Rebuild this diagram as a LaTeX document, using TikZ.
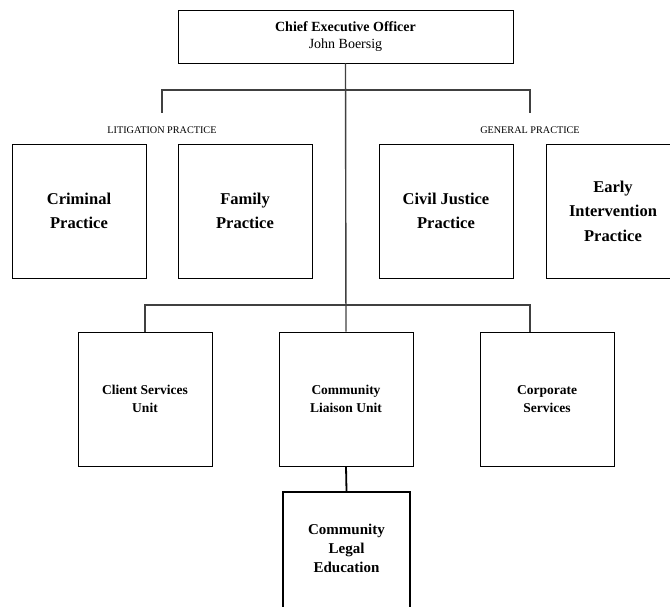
\documentclass[tikz,border=0pt]{standalone}
\usepackage{fontspec}
\setmainfont{Liberation Serif}
\tikzset{
  unitbox/.style={rectangle, draw, line width=0.9pt, minimum width=134pt, minimum height=134pt, inner sep=2pt, align=center},
  practice/.style={unitbox, font=\fontsize{16.5}{24.5}\selectfont\bfseries},
  service/.style={unitbox, font=\fontsize{13.5}{18}\selectfont\bfseries},
  grouplabel/.style={font=\fontsize{10.2}{12}\selectfont, inner sep=0pt, outer ysep=14pt},
  link/.style={draw=black!75, line width=1.4pt}
}
\begin{document}
\begin{tikzpicture}[x=1pt, y=-1pt]
    \useasboundingbox (0,0) rectangle (670,606);

    \node[rectangle, draw, line width=0.9pt, minimum width=335pt, minimum height=53pt, align=center, font=\fontsize{14}{17}\selectfont] (ceo) at (345.5,36.5) {\textbf{Chief Executive Officer}\\John Boersig};

    \node[grouplabel] (litlabel) at (162,130) {LITIGATION PRACTICE};
    \node[grouplabel] (genlabel) at (530,130) {GENERAL PRACTICE};

    \node[practice] (criminal) at (79,211) {Criminal\\Practice};
    \node[practice] (family) at (245,211) {Family\\Practice};
    \node[practice] (civil) at (446,211) {Civil Justice\\Practice};
    \node[practice] (early) at (613,211) {Early\\Intervention\\Practice};

    \node[service] (client) at (145,399) {Client Services\\Unit};
    \node[service] (liaison) at (346,399) {Community\\Liaison Unit};
    \node[service] (corporate) at (547,399) {Corporate\\Services};

    \node[unitbox, line width=2pt, minimum width=127pt, text depth=22pt, font=\fontsize{15}{19}\selectfont\bfseries] (legaled) at (346.5,559) {Community\\Legal\\Education};

    \coordinate (topbar) at (346,90);
    \coordinate (midbar) at (346,305);

    \draw[link] (ceo.south) -- (liaison.north);
    \draw[link] (litlabel.north) |- (topbar) -| (genlabel.north);
    \draw[link] (client.north) |- (midbar) -| (genlabel |- corporate.north);
    \draw[link, draw=black, line width=1.8pt] (liaison.south) -- (legaled.north);
\end{tikzpicture}
\end{document}
